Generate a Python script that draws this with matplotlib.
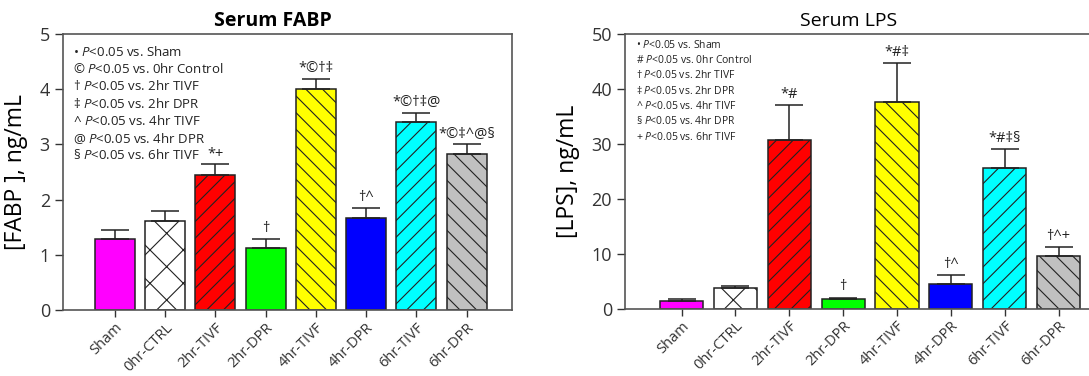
import matplotlib
matplotlib.use("Agg")
import matplotlib.pyplot as plt
import numpy as np

plt.rcParams['font.family'] = ['Open Sans', 'DejaVu Sans']
plt.rcParams['mathtext.fontset'] = 'custom'
plt.rcParams['mathtext.it'] = 'Open Sans:italic'
plt.rcParams['mathtext.rm'] = 'Open Sans'
plt.rcParams['hatch.linewidth'] = 0.8

# 组别
groups = ["Sham", "0hr-CTRL", "2hr-TIVF", "2hr-DPR", "4hr-TIVF", "4hr-DPR", "6hr-TIVF", "6hr-DPR"]
colors = ["#ff00ff", "#ffffff", "#ff0000", "#00ff00", "#ffff00", "#0000ff", "#00ffff", "#c0c0c0"]
hatches = ["", "x", "//", "", "\\\\", "", "//", "\\\\"]

# 左图: FABP
fabp_mean = [1.28, 1.62, 2.45, 1.12, 4.00, 1.67, 3.40, 2.83]
fabp_err = [0.18, 0.18, 0.19, 0.17, 0.18, 0.18, 0.17, 0.17]
fabp_marks = ["", "", "*+", "\u2020", "*\u00a9\u2020\u2021", "\u2020^", "*\u00a9\u2020\u2021@", "*\u00a9\u2021^@\u00a7"]
fabp_legend = [
    ("\u2022", "vs. Sham"),
    ("\u00a9", "vs. 0hr Control"),
    ("\u2020", "vs. 2hr TIVF"),
    ("\u2021", "vs. 2hr DPR"),
    ("^", "vs. 4hr TIVF"),
    ("@", "vs. 4hr DPR"),
    ("\u00a7", "vs. 6hr TIVF"),
]

# 右图: LPS
lps_mean = [1.5, 3.8, 30.7, 1.9, 37.6, 4.6, 25.7, 9.6]
lps_err = [0.4, 0.4, 6.3, 0.2, 7.1, 1.5, 3.3, 1.6]
lps_marks = ["", "", "*#", "\u2020", "*#\u2021", "\u2020^", "*#\u2021\u00a7", "\u2020^+"]
lps_legend = [
    ("\u2022", "vs. Sham"),
    ("#", "vs. 0hr Control"),
    ("\u2020", "vs. 2hr TIVF"),
    ("\u2021", "vs. 2hr DPR"),
    ("^", "vs. 4hr TIVF"),
    ("\u00a7", "vs. 4hr DPR"),
    ("+", "vs. 6hr TIVF"),
]


def draw_panel(ax, mean, err, marks, legend, ymax, ystep, title, ylabel,
               title_weight, title_x, leg_size, leg_y0, leg_dy, mark_pad):
    x = np.arange(len(groups))
    bars = ax.bar(x, mean, width=0.8, color=colors, edgecolor="#222222", linewidth=1.1, zorder=2)
    for b, h in zip(bars, hatches):
        b.set_hatch(h)
    ax.errorbar(x, mean, yerr=[np.zeros(len(err)), err], fmt="none", ecolor="#222222",
                elinewidth=1.1, capsize=10, capthick=1.1, zorder=3)
    for xi, m, e, s in zip(x, mean, err, marks):
        if s:
            ax.text(xi, m + e + mark_pad, s, ha="center", va="bottom", fontsize=10.5, color="#222222")
    for i, (sym, txt) in enumerate(legend):
        ax.text(0.022, leg_y0 - i * leg_dy, sym + r" $P$<0.05 " + txt, transform=ax.transAxes,
                fontsize=leg_size, ha="left", va="center", color="#222222")
    ax.set_ylim(0, ymax)
    ax.set_yticks(np.arange(0, ymax + 0.01, ystep))
    ax.set_xticks(x)
    ax.set_xticklabels(groups, rotation=45, ha="right", rotation_mode="anchor", fontsize=10.5)
    ax.tick_params(axis="y", labelsize=13, length=6, direction="out", width=1.0, colors="#333333")
    ax.tick_params(axis="x", length=5, direction="out", width=1.0, colors="#333333", pad=2)
    for sp in ax.spines.values():
        sp.set_color("#555555")
        sp.set_linewidth(1.2)
    ax.set_title(title, fontsize=14, fontweight=title_weight, pad=6, x=title_x)
    ax.set_ylabel(ylabel, fontsize=16.5, labelpad=8)


fig = plt.figure(figsize=(10.89, 3.76), dpi=100)
ax1 = fig.add_axes([0.058, 0.175, 0.412, 0.735])
ax1.set_xlim(-1.03, 7.9)
draw_panel(ax1, fabp_mean, fabp_err, fabp_marks, fabp_legend, 5, 1, "Serum FABP",
           "[FABP ], ng/mL", "bold", 0.468, 9.5, 0.935, 0.0625, 0.05)

ax2 = fig.add_axes([0.574, 0.178, 0.45, 0.732])
ax2.set_xlim(-1.05, 8.05)
draw_panel(ax2, lps_mean, lps_err, lps_marks, lps_legend, 50, 10, "Serum LPS",
           "[LPS], ng/mL", "normal", 0.457, 7.5, 0.96, 0.0555, 0.6)
ax2.spines["right"].set_visible(False)

fig.savefig("out.png", dpi=100)
